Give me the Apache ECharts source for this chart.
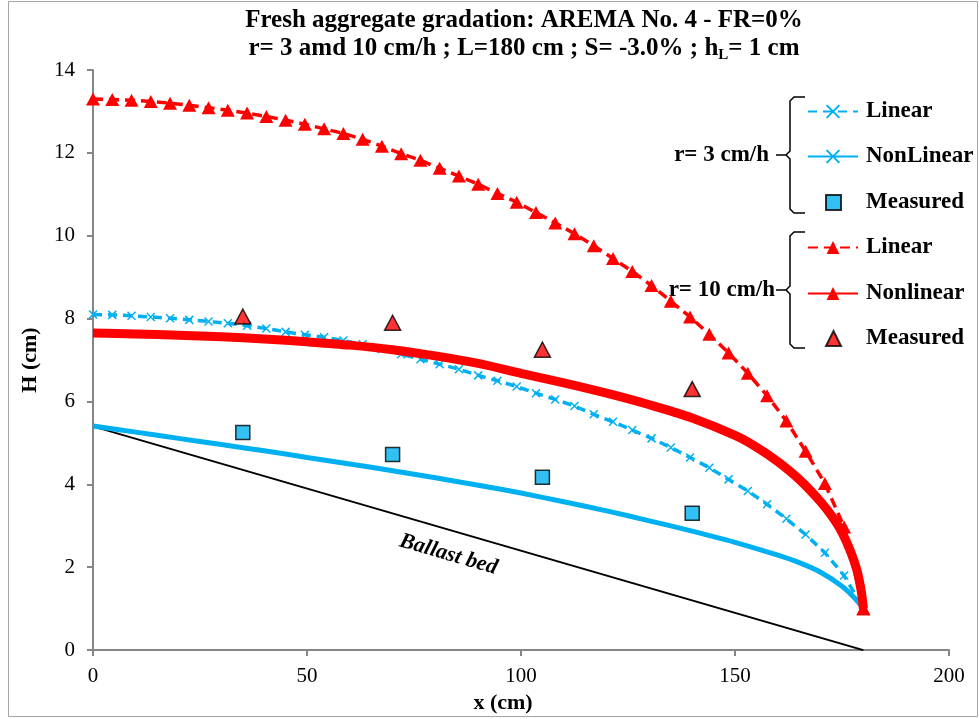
<!DOCTYPE html>
<html><head><meta charset="utf-8">
<script src="https://cdn.jsdelivr.net/npm/echarts@6/dist/echarts.min.js"></script>
<style>html,body{margin:0;padding:0;background:#fff}#c{width:979px;height:719px}</style>
</head><body><div id="c"></div>
<script>
// ---- data ----
const xStep = [0,4.5,9,13.5,18,22.5,27,31.5,36,40.5,45,49.5,54,58.5,63,67.5,72,76.5,81,85.5,90,94.5,99,103.5,108,112.5,117,121.5,126,130.5,135,139.5,144,148.5,153,157.5,162,166.5,171,175.5,180];
const linR3 = [8.10,8.09,8.07,8.04,8.01,7.97,7.93,7.89,7.83,7.76,7.68,7.61,7.55,7.47,7.38,7.27,7.14,7.02,6.90,6.78,6.63,6.50,6.36,6.20,6.05,5.89,5.69,5.51,5.31,5.11,4.89,4.65,4.40,4.12,3.84,3.52,3.17,2.79,2.35,1.80,1.00];
const linR10 = [13.30,13.29,13.27,13.24,13.20,13.15,13.09,13.03,12.96,12.88,12.79,12.69,12.58,12.47,12.33,12.16,11.98,11.82,11.63,11.44,11.24,11.02,10.81,10.56,10.31,10.05,9.76,9.45,9.14,8.80,8.42,8.04,7.62,7.17,6.68,6.14,5.53,4.80,4.02,2.97,1.00];
const nlR3x = [0,10,20,30,40,50,60,70,80,90,100,110,120,130,140,150,160,165,170,175,178,180];
const nlR3y = [5.41,5.26,5.11,4.96,4.81,4.65,4.49,4.33,4.16,3.98,3.79,3.58,3.36,3.12,2.87,2.60,2.29,2.11,1.88,1.54,1.25,1.00];
const nlR10x = [0,10,20,30,40,50,60,70,80,90,100,110,120,130,140,150,155,160,165,170,173,175,177,178.5,179.5,180];
const nlR10y = [7.65,7.63,7.60,7.56,7.51,7.44,7.36,7.25,7.10,6.92,6.68,6.45,6.20,5.92,5.60,5.18,4.90,4.55,4.12,3.58,3.18,2.84,2.38,1.92,1.42,1.00];
const measX = [35,70,105,140];
const measR3 = [5.25,4.72,4.17,3.30];
const measR10 = [8.05,7.90,7.25,6.30];
const bedX = [0,180];
const bedY = [5.4,0];
const xTicks = [0,50,100,150,200];
const yTicks = [0,2,4,6,8,10,12,14];
const titleLines = ['Fresh aggregate gradation: AREMA No. 4 - FR=0%', 'r= 3 amd 10 cm/h ; L=180 cm ; S= -3.0% ; h{sub|L}= 1 cm'];
const legendNames = ['Linear','NonLinear','Measured','Linear','Nonlinear','Measured'];
const groupLabels = ['r= 3 cm/h','r= 10 cm/h'];

const FONT = '"Liberation Serif","Times New Roman",serif';
const BLUE = '#00B0F0', RED = '#FF0000';
const zip = (a,b) => a.map((v,i)=>[v,b[i]]);
const ids = ['b_lin','b_nl','b_meas','r_lin','r_nl','r_meas'];
const nameMap = {}; ids.forEach((k,i)=>nameMap[k]=legendNames[i]);
const xPath = 'path://M0,0L10,10M10,0L0,10';

const chart = echarts.init(document.getElementById('c'), null, {renderer:'canvas'});
const rowsY = [112,157,203,248,294,339];
const legends = ids.map((id,i)=>{
  const meas = id.indexOf('meas')>=0;
  return {
    data:[id], left: meas ? 825 : 807, top: rowsY[i]-12, orient:'vertical', padding:0,
    itemWidth: meas ? 15 : 50, itemHeight: meas ? 15 : 16, selectedMode:false,
    formatter: n => nameMap[n],
    textStyle:{fontFamily:FONT, fontWeight:'bold', fontSize:23, color:'#000', padding:[0,0,0,meas?20:3]}
  };
});

const option = {
  animation:false,
  backgroundColor:'#fff',
  title:{
    text: titleLines.join('\n'), left: 519, top: 2, textAlign:'center',
    textStyle:{fontFamily:FONT, fontWeight:'bold', fontSize:25, lineHeight:28, color:'#000',
      rich:{sub:{fontFamily:FONT, fontWeight:'bold', fontSize:15, verticalAlign:'bottom', padding:[10,0,0,0], lineHeight:28}}}
  },
  legend: legends,
  grid:{left:93, right:30, top:70, bottom:61, containLabel:false},
  xAxis:{type:'value', min:0, max:200, interval:50, name:'x (cm)', nameLocation:'middle', nameGap:34,
    nameTextStyle:{fontFamily:FONT, fontWeight:'bold', fontSize:22, color:'#000', padding:[0,36,0,0]},
    axisLine:{lineStyle:{color:'#868686', width:2}}, axisTick:{length:6, lineStyle:{color:'#868686', width:2}},
    axisLabel:{fontFamily:FONT, fontSize:21, color:'#000', margin:16, formatter:v=>xTicks.includes(v)?String(v):''},
    splitLine:{show:false}},
  yAxis:{type:'value', min:0, max:14, interval:2, name:'H (cm)', nameLocation:'middle', nameGap:52,
    nameTextStyle:{fontFamily:FONT, fontWeight:'bold', fontSize:22, color:'#000'},
    axisLine:{show:true, lineStyle:{color:'#868686', width:2}}, axisTick:{show:true, length:6, lineStyle:{color:'#868686', width:2}},
    axisLabel:{fontFamily:FONT, fontSize:21, color:'#000', margin:18, formatter:v=>yTicks.includes(v)?String(v):''},
    splitLine:{show:false}},
  series:[
    {id:'bed', name:'bed', type:'line', data:zip(bedX,bedY), symbol:'none', lineStyle:{color:'#000', width:2}, z:2},
    {id:'b_lin', name:'b_lin', type:'line', data:zip(xStep,linR3), symbol:xPath, symbolSize:8,
      itemStyle:{color:BLUE, borderColor:BLUE, borderWidth:1.5}, lineStyle:{color:BLUE, width:3.5, type:[9,6]}, z:3},
    {id:'b_nl', name:'b_nl', type:'line', data:zip(nlR3x,nlR3y), symbol:xPath, showSymbol:false, smooth:0.3,
      itemStyle:{color:BLUE, borderColor:BLUE, borderWidth:1.5}, lineStyle:{color:BLUE, width:5}, z:3},
    {id:'b_meas', name:'b_meas', type:'scatter', data:zip(measX,measR3), symbol:'rect', symbolSize:14,
      itemStyle:{color:BLUE, borderColor:'#000', borderWidth:1.5}, z:6},
    {id:'r_lin', name:'r_lin', type:'line', data:zip(xStep,linR10), symbol:'triangle', symbolSize:[14,13],
      itemStyle:{color:RED}, lineStyle:{color:RED, width:3.5, type:[10,6]}, z:4},
    {id:'r_nl', name:'r_nl', type:'line', data:zip(nlR10x,nlR10y), symbol:'triangle', smooth:0.3,
      symbolSize:(v,p)=> p.dataIndex===nlR10x.length-1 ? [14,13] : 0,
      itemStyle:{color:RED}, lineStyle:{color:RED, width:9}, z:5},
    {id:'r_meas', name:'r_meas', type:'scatter', data:zip(measX,measR10), symbol:'triangle', symbolSize:[16,15],
      itemStyle:{color:RED, borderColor:'#000', borderWidth:1.5}, z:6}
  ]
};
chart.setOption(option);

// annotations: braces, group labels, bed label, outer frame
const brace = (top, mid, bot) => [
  {type:'polyline', shape:{points:[[805,top],[794,top],[790,top+4],[790,mid-4],[786,mid],[776,mid]]}, style:{stroke:'#000', lineWidth:1.5, fill:null}},
  {type:'polyline', shape:{points:[[786,mid],[790,mid+4],[790,bot-4],[794,bot],[805,bot]]}, style:{stroke:'#000', lineWidth:1.5, fill:null}}
];
const p0 = chart.convertToPixel({gridIndex:0}, [bedX[0], bedY[0]]);
const p1 = chart.convertToPixel({gridIndex:0}, [bedX[1], bedY[1]]);
const ang = Math.atan2(p1[1]-p0[1], p1[0]-p0[0]);
const t = 0.47;
const mx = p0[0] + (p1[0]-p0[0])*t, my = p0[1] + (p1[1]-p0[1])*t;
const off = 24;
chart.setOption({graphic:[
  {type:'rect', shape:{x:8.5, y:1.5, width:969, height:715}, style:{stroke:'#a6a6a6', lineWidth:1, fill:null}, silent:true},
  ...brace(97,155,213),
  ...brace(232,290,348),
  {type:'text', style:{text:groupLabels[0], x:769, y:155, align:'right', verticalAlign:'middle', font:'bold 23px '+FONT, fill:'#000'}},
  {type:'text', style:{text:groupLabels[1], x:775, y:290, align:'right', verticalAlign:'middle', font:'bold 23px '+FONT, fill:'#000'}},
  {type:'text', x: mx - Math.sin(ang)*off, y: my + Math.cos(ang)*off, rotation: -ang,
    style:{text:'Ballast bed', x:0, y:0, align:'center', verticalAlign:'middle', font:'italic bold 22px '+FONT, fill:'#000'}}
]});
</script></body></html>
